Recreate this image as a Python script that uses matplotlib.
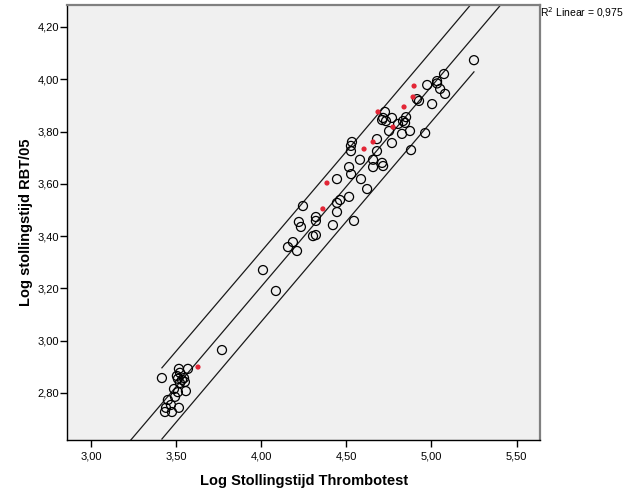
import matplotlib
matplotlib.use("Agg")
import matplotlib.pyplot as plt
from matplotlib.ticker import FuncFormatter
import numpy as np

plt.rcParams['font.family'] = ['Liberation Sans', 'DejaVu Sans']

# open circles: log clotting time Thrombotest (x) vs RBT/05 (y)
x_open = [3.416, 3.516, 3.569, 3.504, 3.522, 3.510, 3.534, 3.546, 3.551, 3.522,
          3.487, 3.557, 3.510, 3.493, 3.451, 3.469, 3.516, 3.440, 3.434, 3.475,
          3.769, 4.010, 4.086, 4.157, 4.186, 4.210, 4.304, 4.321, 4.221, 4.233,
          4.245, 4.321, 4.321, 4.421, 4.445, 4.545, 4.445, 4.463, 4.516, 4.622,
          4.445, 4.586, 4.528, 4.516, 4.657, 4.580, 4.657, 4.710, 4.716, 4.533,
          4.527, 4.527, 4.680, 4.680, 4.768, 4.751, 4.827, 4.874, 4.880, 4.963,
          4.727, 4.710, 4.733, 4.716, 4.768, 4.851, 4.833, 4.845, 4.804, 4.927,
          4.915, 5.004, 4.975, 5.033, 5.033, 5.051, 5.080, 5.074, 5.250]
y_open = [2.857, 2.892, 2.892, 2.865, 2.877, 2.854, 2.850, 2.857, 2.842, 2.838,
          2.815, 2.807, 2.803, 2.785, 2.773, 2.754, 2.743, 2.743, 2.727, 2.727,
          2.964, 3.270, 3.190, 3.358, 3.377, 3.343, 3.400, 3.404, 3.454, 3.435,
          3.515, 3.473, 3.458, 3.442, 3.492, 3.458, 3.527, 3.538, 3.550, 3.580,
          3.618, 3.618, 3.637, 3.664, 3.664, 3.692, 3.692, 3.680, 3.668, 3.760,
          3.745, 3.725, 3.771, 3.725, 3.756, 3.802, 3.791, 3.802, 3.729, 3.794,
          3.875, 3.844, 3.840, 3.852, 3.852, 3.855, 3.840, 3.833, 3.829, 3.917,
          3.924, 3.905, 3.978, 3.993, 3.984, 3.963, 3.944, 4.020, 4.073]

# red filled points
x_red = [4.898, 4.892, 4.839, 4.686, 4.774, 4.657, 4.604, 4.386, 4.362, 3.628]
y_red = [3.974, 3.932, 3.894, 3.875, 3.817, 3.760, 3.733, 3.603, 3.504, 2.899]

r2_text = "R$^2$ Linear = 0,975"
t_value = 1.99  # 95% two-sided, df ~ 87

x_all = np.array(x_open + x_red)
y_all = np.array(y_open + y_red)
n = len(x_all)
slope, intercept = np.polyfit(x_all, y_all, 1)
resid = y_all - (intercept + slope * x_all)
s = np.sqrt(np.sum(resid ** 2) / (n - 2))
xbar = x_all.mean()
sxx = np.sum((x_all - xbar) ** 2)

fig = plt.figure(figsize=(6.26, 5.01), dpi=100)
ax = fig.add_axes([0.1078, 0.1218, 0.7548, 0.8682])
ax.set_facecolor('#f0f0f0')

xlim = (2.861, 5.638)
ylim = (2.620, 4.284)

xf = np.linspace(xlim[0], xlim[1], 200)
ax.plot(xf, intercept + slope * xf, color='#1a1a1a', lw=0.9, zorder=2)
xp = np.linspace(x_all.min(), x_all.max(), 200)
half = t_value * s * np.sqrt(1 + 1 / n + (xp - xbar) ** 2 / sxx)
ax.plot(xp, intercept + slope * xp + half, color='#1a1a1a', lw=0.9, zorder=2)
ax.plot(xp, intercept + slope * xp - half, color='#1a1a1a', lw=0.9, zorder=2)

ax.scatter(x_open, y_open, s=42, facecolors='none', edgecolors='black',
           linewidths=0.9, zorder=3)
ax.scatter(x_red, y_red, s=14, color='#e32636', edgecolors='none', zorder=4)

ax.set_xlim(xlim)
ax.set_ylim(ylim)
ax.set_xticks([3.0, 3.5, 4.0, 4.5, 5.0, 5.5])
ax.set_yticks([2.8, 3.0, 3.2, 3.4, 3.6, 3.8, 4.0, 4.2])
fmt = FuncFormatter(lambda v, p: "{:.2f}".format(v).replace('.', ','))
ax.xaxis.set_major_formatter(fmt)
ax.yaxis.set_major_formatter(fmt)
ax.tick_params(direction='out', length=5, width=1, labelsize=8, color='black')
ax.tick_params(axis='x', pad=3)
ax.tick_params(axis='y', pad=1)

for side in ['left', 'bottom']:
    ax.spines[side].set_color('black')
    ax.spines[side].set_linewidth(1)
for side in ['top', 'right']:
    ax.spines[side].set_color('#808080')
    ax.spines[side].set_linewidth(1.6)

ax.set_xlabel("Log Stollingstijd Thrombotest", fontsize=10.5, fontweight='bold', labelpad=9)
ax.set_ylabel("Log stollingstijd RBT/05", fontsize=10.5, fontweight='bold', labelpad=3)

fig.text(0.863, 0.974, r2_text, fontsize=7.5, ha='left', va='center')

fig.savefig("out.png", dpi=100)
